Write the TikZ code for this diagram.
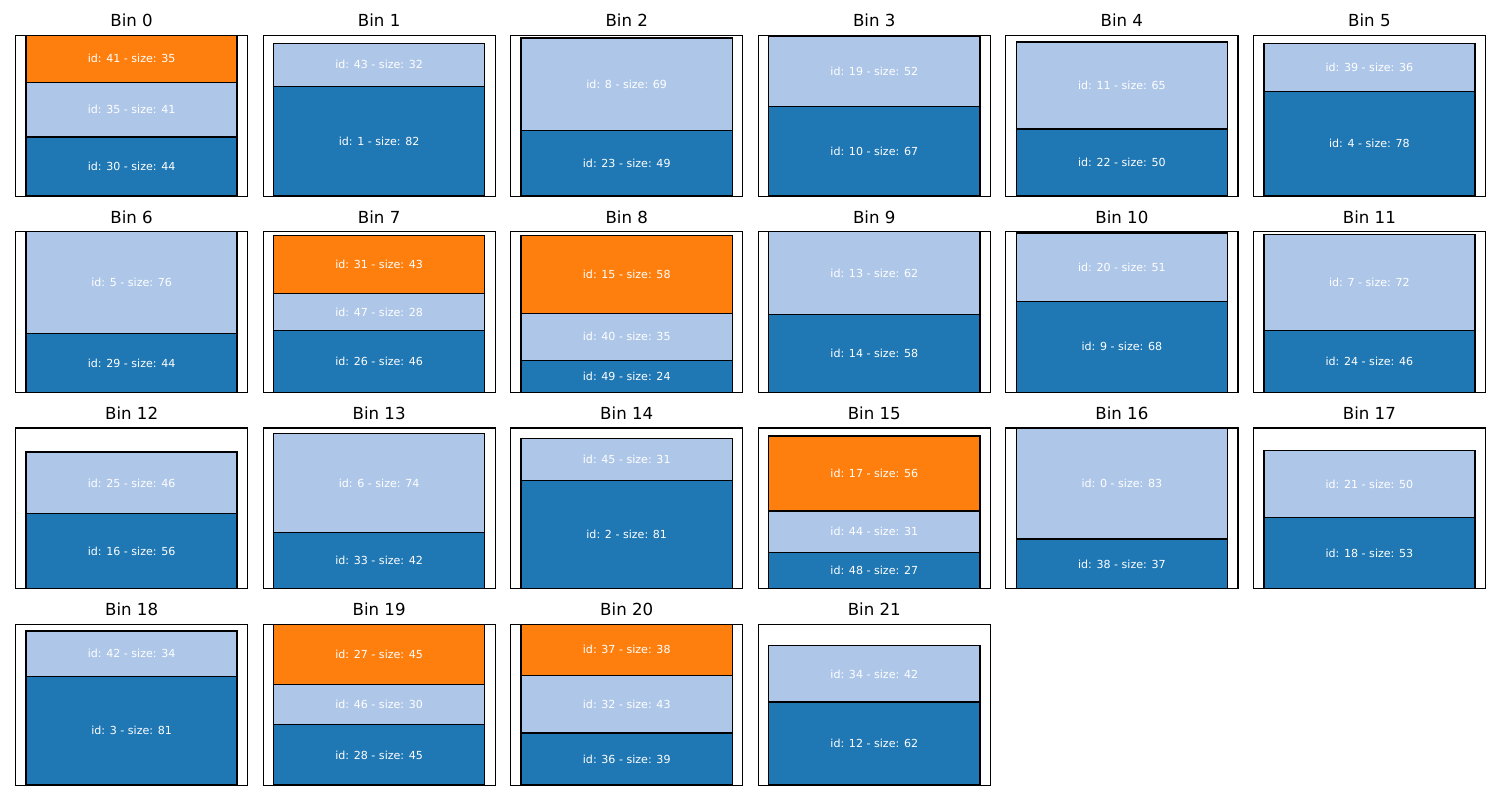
\documentclass[tikz,border=0pt]{standalone}
\usepackage{fontspec}
\setmainfont{DejaVu Sans}
\definecolor{layer1}{HTML}{1F77B4}
\definecolor{layer2}{HTML}{AEC7E8}
\definecolor{layer3}{HTML}{FF7F0E}

\begin{document}
\begin{tikzpicture}[
    x=0.01in, y=-0.01in,
    frame/.style={draw, line width=0.8bp},
    item/.style={draw, line width=1bp},
    itemlabel/.style={text=white, font=\fontsize{8}{9.6}\selectfont, inner sep=0pt},
    bintitle/.style={anchor=base, font=\fontsize{12}{14.4}\selectfont, inner sep=0pt}
]
\useasboundingbox (0,0) rectangle (1500,800);
% one panel per bin: items stacked bottom to top as id/size
\foreach \b/\items in {
    0/{30/44,35/41,41/35}, 1/{1/82,43/32}, 2/{23/49,8/69}, 3/{10/67,19/52},
    4/{22/50,11/65}, 5/{4/78,39/36}, 6/{29/44,5/76}, 7/{26/46,47/28,31/43},
    8/{49/24,40/35,15/58}, 9/{14/58,13/62}, 10/{9/68,20/51}, 11/{24/46,7/72},
    12/{16/56,25/46}, 13/{33/42,6/74}, 14/{2/81,45/31}, 15/{48/27,44/31,17/56},
    16/{38/37,0/83}, 17/{18/53,21/50}, 18/{3/81,42/34}, 19/{28/45,46/30,27/45},
    20/{36/39,32/43,37/38}, 21/{12/62,34/42}} {
  \pgfmathsetmacro\bx{15.5+247.56*mod(\b,6)}
  \pgfmathsetmacro\by{35.3+196.33*floor(\b/6)}
  \node[bintitle] (title\b) at (\bx+116.1,\by-8.3) {Bin \b};
  \draw[frame] (\bx,\by) rectangle ++(232.2,160.8);
  \gdef\binbase{0}
  \foreach \id/\sz [count=\k] in \items {
    \pgfmathsetmacro\bintop{\binbase+\sz}
    \draw[item, fill=layer\k] (\bx+10.55,\by+160.8-1.34*\binbase) rectangle (\bx+221.65,\by+160.8-1.34*\bintop);
    \node[itemlabel] (item\id) at (\bx+116.1,\by+160.8-0.67*\binbase-0.67*\bintop) {id: \id{} - size: \sz};
    \xdef\binbase{\bintop}
  }
}
\end{tikzpicture}
\end{document}
